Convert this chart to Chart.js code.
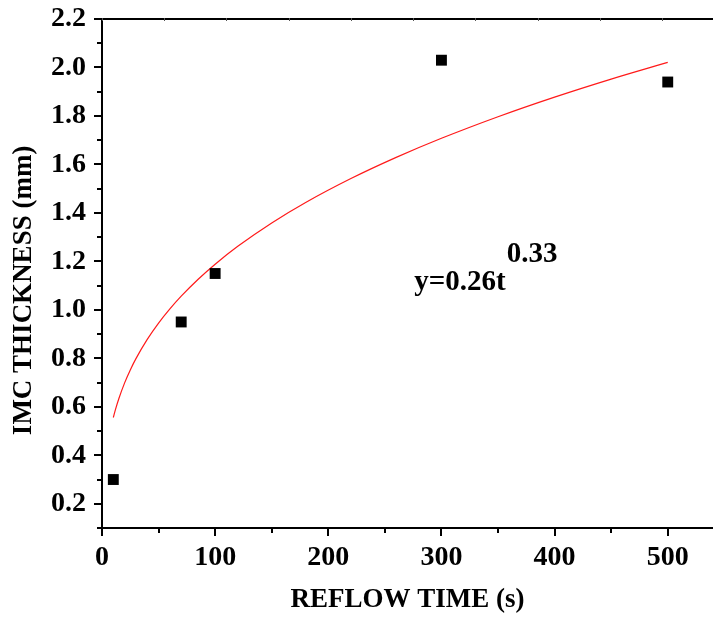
<!DOCTYPE html>
<html>
<head>
<meta charset="utf-8">
<script src="https://cdn.jsdelivr.net/npm/chart.js@4.4.1/dist/chart.umd.min.js"></script>
<style>
  html, body { margin: 0; padding: 0; background: #ffffff; }
  #wrap { width: 714px; height: 618px; }
</style>
</head>
<body>
<div id="wrap"><canvas id="c" width="714" height="618"></canvas></div>
<script>
// Measured IMC thickness after reflow
const reflowTime = [10, 70, 100, 300, 500];
const imcThickness = [0.30, 0.95, 1.15, 2.03, 1.94];

// Power-law fit y = a * t^b
const fitCoef = 0.26;
const fitExp = 0.33;
const fitTimes = [10, 12, 15, 20, 25, 30, 40, 50, 60, 70, 85, 100, 120, 150, 180, 220, 260, 300, 350, 400, 450, 500];
const fitLine = fitTimes.map(t => ({ x: t, y: fitCoef * Math.pow(t, fitExp) }));

// Axis ticks
const xMajorTicks = [0, 100, 200, 300, 400, 500];
const xMinorTicks = [50, 150, 250, 350, 450];
const yMajorTicks = [0.2, 0.4, 0.6, 0.8, 1.0, 1.2, 1.4, 1.6, 1.8, 2.0, 2.2];
const yMinorTicks = [0.1, 0.3, 0.5, 0.7, 0.9, 1.1, 1.3, 1.5, 1.7, 1.9, 2.1];
const topTicks = [0, 55, 110, 165, 220, 275, 330, 385, 440, 495];

const FONT = '"Liberation Serif", "Times New Roman", serif';
const INK = '#000000';

// Frame, tick marks and fit equation
const framePlugin = {
  id: 'frame',
  afterDraw(chart) {
    const { ctx, chartArea: a, scales: { x, y } } = chart;
    ctx.save();
    ctx.strokeStyle = INK;
    ctx.lineCap = 'butt';

    // axis lines
    ctx.lineWidth = 2;
    ctx.beginPath();
    ctx.moveTo(a.left, a.top - 1);
    ctx.lineTo(a.left, a.bottom + 1);
    ctx.moveTo(a.left - 1, a.bottom);
    ctx.lineTo(a.right, a.bottom);
    ctx.moveTo(a.left - 1, a.top);
    ctx.lineTo(a.right, a.top);
    ctx.stroke();

    // left ticks (outward)
    ctx.beginPath();
    yMajorTicks.forEach(v => {
      const p = Math.round(y.getPixelForValue(v));
      ctx.moveTo(a.left - 8, p); ctx.lineTo(a.left, p);
    });
    yMinorTicks.forEach(v => {
      const p = Math.round(y.getPixelForValue(v));
      ctx.moveTo(a.left - 5, p); ctx.lineTo(a.left, p);
    });
    // bottom ticks (outward)
    xMajorTicks.forEach(v => {
      const p = Math.round(x.getPixelForValue(v));
      ctx.moveTo(p, a.bottom); ctx.lineTo(p, a.bottom + 8);
    });
    xMinorTicks.forEach(v => {
      const p = Math.round(x.getPixelForValue(v));
      ctx.moveTo(p, a.bottom); ctx.lineTo(p, a.bottom + 5);
    });
    ctx.stroke();

    // top ticks (inward, fine)
    ctx.lineWidth = 1;
    ctx.strokeStyle = '#555555';
    ctx.beginPath();
    topTicks.forEach(v => {
      const p = Math.round(x.getPixelForValue(v)) + 0.5;
      ctx.moveTo(p, a.top - 1); ctx.lineTo(p, a.top + 2);
    });
    ctx.stroke();

    // fit equation
    ctx.fillStyle = INK;
    ctx.textBaseline = 'alphabetic';
    ctx.textAlign = 'left';
    ctx.font = 'bold 29px ' + FONT;
    const ex = x.getPixelForValue(276);
    const ey = y.getPixelForValue(1.083);
    const main = 'y=' + fitCoef.toFixed(2) + 't';
    ctx.fillText(main, ex, ey);
    const w = ctx.measureText(main).width;
    ctx.fillText(fitExp.toFixed(2), ex + w + 1, ey - 28);
    ctx.restore();
  }
};

new Chart(document.getElementById('c'), {
  type: 'scatter',
  data: {
    datasets: [
      {
        label: 'Fit',
        type: 'line',
        data: fitLine,
        borderColor: '#ff1a1a',
        borderWidth: 1.2,
        pointRadius: 0,
        tension: 0.4,
        cubicInterpolationMode: 'monotone',
        fill: false,
        order: 2
      },
      {
        label: 'IMC thickness',
        data: reflowTime.map((t, i) => ({ x: t, y: imcThickness[i] })),
        pointStyle: 'rect',
        pointRadius: 7.7,
        pointHoverRadius: 7.7,
        backgroundColor: INK,
        borderColor: INK,
        borderWidth: 0,
        order: 1
      }
    ]
  },
  options: {
    responsive: false,
    animation: false,
    events: [],
    layout: { autoPadding: false, padding: { top: 19, right: 1, left: 0, bottom: 0 } },
    plugins: {
      legend: { display: false },
      tooltip: { enabled: false }
    },
    scales: {
      x: {
        type: 'linear',
        min: 0,
        max: 540,
        afterBuildTicks: s => { s.ticks = xMajorTicks.map(v => ({ value: v })); },
        afterFit: s => { s.height = 90; s.paddingLeft = 0; s.paddingRight = 0; },
        grid: { display: false, drawTicks: false },
        border: { display: false },
        ticks: {
          color: INK,
          padding: 13,
          font: { family: FONT, size: 28, weight: 'bold' },
          callback: v => String(v)
        },
        title: {
          display: true,
          text: 'REFLOW TIME (s)',
          color: INK,
          font: { family: FONT, size: 27, weight: 'bold' },
          padding: { top: 0, bottom: 2 }
        }
      },
      y: {
        type: 'linear',
        min: 0.1,
        max: 2.2,
        afterBuildTicks: s => { s.ticks = yMajorTicks.map(v => ({ value: v })); },
        afterFit: s => { s.width = 102; s.paddingTop = 0; s.paddingBottom = 0; },
        grid: { display: false, drawTicks: false },
        border: { display: false },
        ticks: {
          color: INK,
          padding: 16,
          font: { family: FONT, size: 28, weight: 'bold' },
          callback: v => Number(v).toFixed(1)
        },
        title: {
          display: true,
          text: 'IMC THICKNESS (mm)     ',
          color: INK,
          font: { family: FONT, size: 27, weight: 'bold' },
          padding: { top: 8, bottom: 0 }
        }
      }
    }
  },
  plugins: [framePlugin]
});
</script>
</body>
</html>
